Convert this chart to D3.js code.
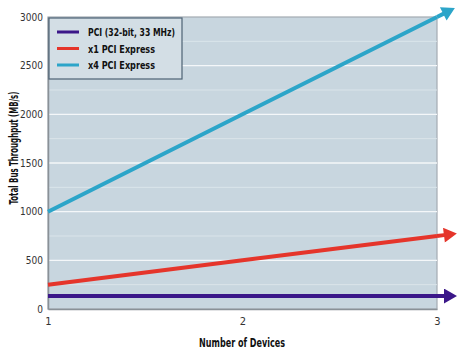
<!DOCTYPE html>
<html>
<head>
<meta charset="utf-8">
<script src="https://cdn.jsdelivr.net/npm/d3@7"></script>
<style>
  body { margin: 0; background: #fff; }
  text { font-family: "Liberation Sans Narrow", "DejaVu Sans Condensed", "Liberation Sans", sans-serif; }
</style>
</head>
<body>
<svg width="466" height="354"></svg>
<script>
const devices = [1, 2, 3]
const seriesNames = ["PCI (32-bit, 33 MHz)", "x1 PCI Express", "x4 PCI Express"]
const pciValues = [133, 133, 133]
const x1Values = [250, 500, 750]
const x4Values = [1000, 2000, 3000]
const yTicks = [0, 500, 1000, 1500, 2000, 2500, 3000]
const yTickLabels = ["0", "500", "1000", "1500", "2000", "2500", "3000"]
const colors = ["#3b1789", "#e5352b", "#2ca5c9"]

const svg = d3.select("svg")
const margin = {top: 17, right: 29, bottom: 45, left: 48}
const width = +svg.attr("width")
const height = +svg.attr("height")
const innerWidth = width - margin.left - margin.right
const innerHeight = height - margin.top - margin.bottom

const xScale = d3.scaleLinear().domain([1, 3]).range([0, innerWidth])
const yScale = d3.scaleLinear().domain([0, 3000]).range([innerHeight, 0])

const g = svg.append("g").attr("transform", `translate(${margin.left},${margin.top})`)

// plot background
g.append("rect")
  .attr("width", innerWidth).attr("height", innerHeight)
  .attr("fill", "#c8d6df").attr("stroke", "#a3abb2").attr("stroke-width", 1.2)

// gridlines every 250
g.append("g").selectAll("line")
  .data(d3.range(250, 3000, 250))
  .enter().append("line")
  .attr("x1", 0).attr("x2", innerWidth)
  .attr("y1", d => yScale(d)).attr("y2", d => yScale(d))
  .attr("stroke", d => d % 500 === 0 ? "#f4f7f9" : "#dde6ec")
  .attr("stroke-width", d => d % 500 === 0 ? 1.4 : 0.9)

// axes
const yAxis = d3.axisLeft(yScale).tickValues(yTicks)
  .tickFormat((d, i) => yTickLabels[i]).tickSize(0).tickPadding(5)
const yAxisG = g.append("g").call(yAxis)
yAxisG.select(".domain").attr("stroke", "#8a9197").attr("stroke-width", 1.5)
yAxisG.selectAll("text").attr("font-size", 10).attr("fill", "#333")
  .attr("font-family", "'DejaVu Sans Condensed', sans-serif").attr("font-weight", 200)

const xAxis = d3.axisBottom(xScale).tickValues(devices).tickFormat(d3.format("d")).tickSize(0).tickPadding(8)
const xAxisG = g.append("g").attr("transform", `translate(0,${innerHeight})`).call(xAxis)
xAxisG.select(".domain").attr("stroke", "#8a9197").attr("stroke-width", 1.5)
xAxisG.selectAll("text").attr("font-size", 11).attr("fill", "#333")
  .attr("font-family", "'DejaVu Sans Condensed', sans-serif")

// arrow markers: short shaft + head, drawn past the last point
const defs = svg.append("defs")
colors.forEach((c, i) => {
  defs.append("marker")
    .attr("id", "arrow" + i)
    .attr("viewBox", "0 0 20 15")
    .attr("refX", 0).attr("refY", 7.5)
    .attr("markerWidth", 20).attr("markerHeight", 15)
    .attr("markerUnits", "userSpaceOnUse")
    .attr("orient", "auto")
    .append("path").attr("d", "M0,5.5 L7,5.5 L7,0 L20,7.5 L7,15 L7,9.5 L0,9.5 Z").attr("fill", c)
})

const allSeries = [pciValues, x1Values, x4Values]
const line = d3.line()
  .x((d, i) => xScale(devices[i]))
  .y(d => yScale(d))

allSeries.forEach((vals, i) => {
  g.append("path")
    .datum(vals)
    .attr("fill", "none")
    .attr("stroke", colors[i])
    .attr("stroke-width", 4)
    .attr("d", line)
    .attr("marker-end", `url(#arrow${i})`)
})

// legend
const legendWidths = [87, 67, 67]
const legend = g.append("g").attr("transform", "translate(1,1)")
legend.append("rect")
  .attr("width", 133).attr("height", 61)
  .attr("fill", "#d3dee5").attr("stroke", "#4d6274").attr("stroke-width", 1.2)
seriesNames.forEach((name, i) => {
  const y = 14 + i * 16.5
  legend.append("line")
    .attr("x1", 8).attr("x2", 30).attr("y1", y).attr("y2", y)
    .attr("stroke", colors[i]).attr("stroke-width", 3)
  legend.append("text")
    .attr("x", 39).attr("y", y + 4)
    .attr("font-size", 11).attr("font-weight", "bold").attr("fill", "#111")
    .attr("textLength", legendWidths[i]).attr("lengthAdjust", "spacingAndGlyphs")
    .text(name)
})

// axis titles
svg.append("g").attr("transform", "translate(18,148)")
  .append("text")
  .attr("transform", "rotate(-90)")
  .attr("text-anchor", "middle")
  .attr("font-size", 12).attr("font-weight", "bold").attr("fill", "#111")
  .attr("textLength", 113).attr("lengthAdjust", "spacingAndGlyphs")
  .text("Total Bus Throughput (MB/s)")

svg.append("text")
  .attr("x", 242).attr("y", 347)
  .attr("text-anchor", "middle")
  .attr("font-size", 12).attr("font-weight", "bold").attr("fill", "#111")
  .attr("textLength", 86).attr("lengthAdjust", "spacingAndGlyphs")
  .text("Number of Devices")
</script>
</body>
</html>
